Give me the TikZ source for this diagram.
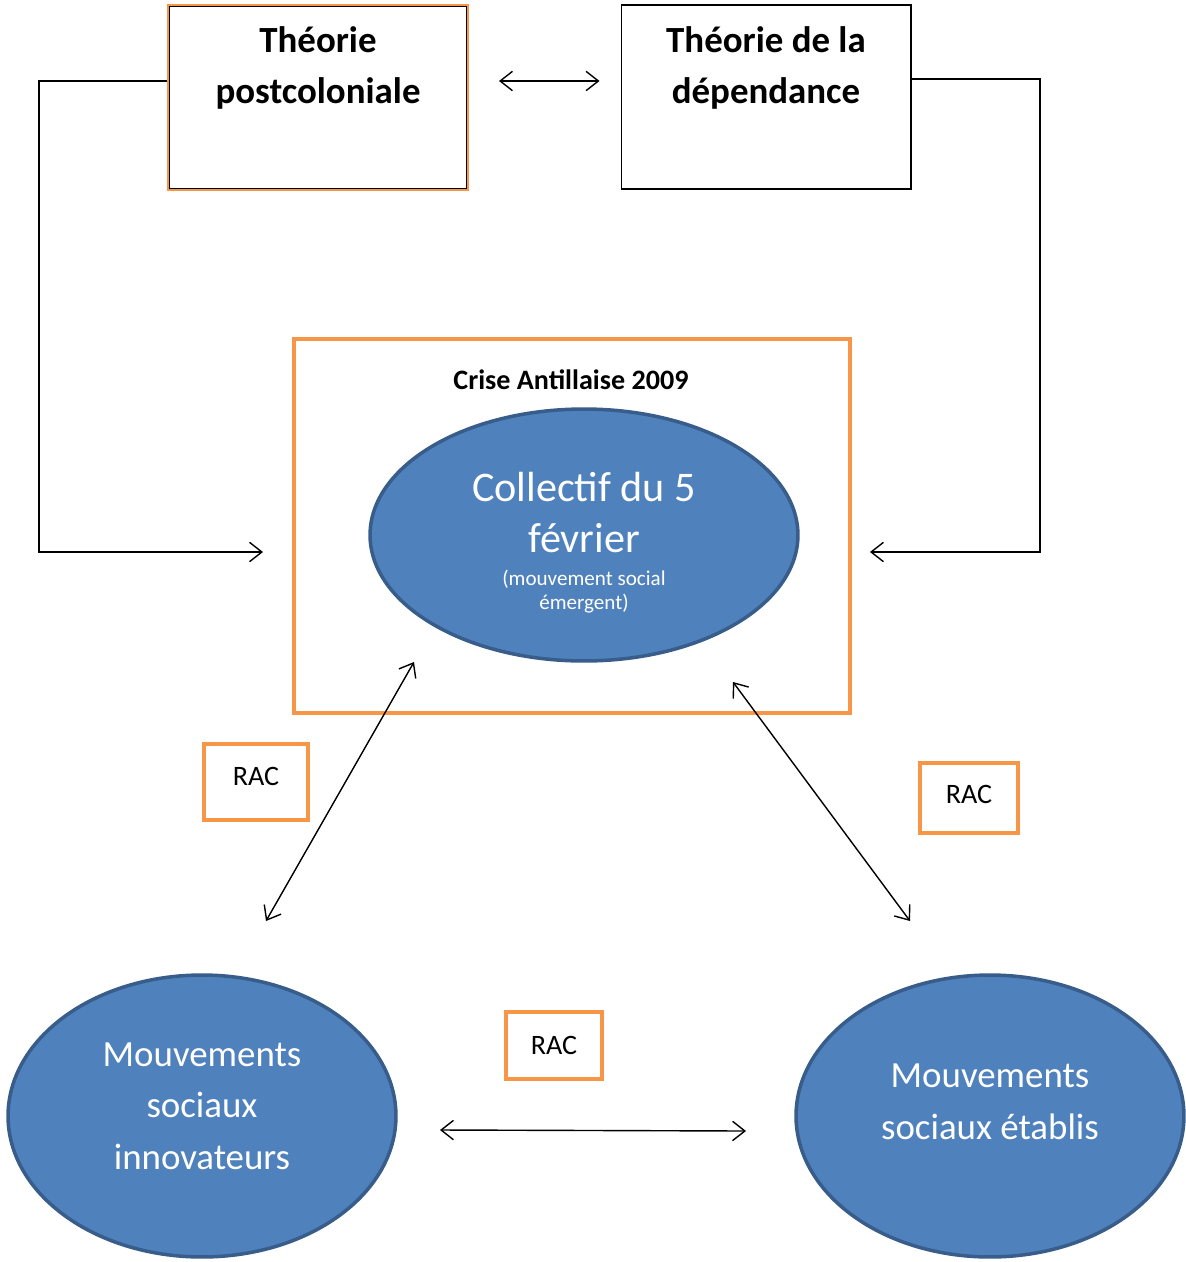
\documentclass[tikz,border=0pt]{standalone}
\usepackage{fontspec}
\setmainfont{Carlito}
\usetikzlibrary{arrows.meta,shapes.geometric}
\definecolor{accent}{HTML}{F79646}
\definecolor{blfill}{HTML}{4F81BD}
\definecolor{bldraw}{HTML}{385D8A}
\tikzset{
  theory/.style={draw, rectangle, line width=0.6pt},
  title/.style={align=center, font=\fontsize{21}{29}\selectfont\bfseries},
  movement/.style={ellipse, draw=bldraw, fill=blfill, line width=2pt, text=white, align=center},
  racbox/.style={draw=accent, line width=2pt, font=\fontsize{16}{19}\selectfont},
  conn/.style={line width=0.8pt, -{Straight Barb[length=7pt,width=11pt]}},
  dbl/.style={line width=0.8pt, {Straight Barb[length=7pt,width=11pt]}-{Straight Barb[length=7pt,width=11pt]}}
}
\begin{document}
\begin{tikzpicture}[x=0.02cm,y=-0.02cm]
\useasboundingbox (0,0) rectangle (1186,1262);

% theories
\node[theory, draw=accent, line width=1.2pt, minimum width=6cm, minimum height=3.7cm] (postco) at (318,97.5) {};
\draw[line width=0.6pt] ([xshift=1.2pt,yshift=-1.2pt]postco.north west) rectangle ([xshift=-1.2pt,yshift=1.2pt]postco.south east);
\node[title] (postco-t) at (318,68) {Théorie\\postcoloniale};
\node[theory, minimum width=5.8cm, minimum height=3.68cm] (dep) at (766,97) {};
\node[title] (dep-t) at (766,68) {Théorie de la\\dépendance};

% crise
\node[draw=accent, line width=2pt, minimum width=11.12cm, minimum height=7.48cm] (crise) at (572,526) {};
\node[font=\fontsize{16}{19}\selectfont\bfseries] (crise-t) at (571,380) {Crise Antillaise 2009};
\node[movement, minimum width=8.56cm, minimum height=5.04cm, font=\fontsize{24}{29}\selectfont] (coll) at (584,535)
  {\rule{0pt}{25.5pt}Collectif du 5\\février\\[-10.5pt]{\fontsize{12}{14}\selectfont(mouvement social}\\[-15pt]{\fontsize{12}{14}\selectfont émergent)}};

% mouvements
\node[movement, minimum width=7.76cm, minimum height=5.64cm, font=\fontsize{21}{29.5}\selectfont] (innov) at (202,1116) {Mouvements\\sociaux\\innovateurs\rule[-11.4pt]{0pt}{11.4pt}};
\node[movement, minimum width=7.76cm, minimum height=5.64cm, font=\fontsize{21}{29.5}\selectfont] (estab) at (990,1116) {Mouvements\\sociaux établis\rule[-16pt]{0pt}{16pt}};

\node[racbox, minimum width=2.08cm, minimum height=1.52cm, text depth=6.8pt] (rac1) at (256,782) {RAC};
\node[racbox, minimum width=1.96cm, minimum height=1.4cm, text depth=4.6pt] (rac2) at (969,798) {RAC};
\node[racbox, minimum width=1.92cm, minimum height=1.34cm] (rac3) at (554,1045.5) {RAC};

% connectors
\coordinate (lcorner) at (39,81);
\coordinate (rcorner) at (1040,79);
\coordinate (lt) at (263,552);
\coordinate (rt) at (870,552);
\draw[conn] (postco.west |- lcorner) -- (lcorner) |- (lt);
\draw[conn] (dep.east |- rcorner) -- (rcorner) |- (rt);
\draw[dbl, shorten <=0.6cm, shorten >=0.42cm] (postco.east |- lcorner) -- (dep.west |- lcorner);

\coordinate (a1) at (414,662);
\coordinate (a2) at (266,921);
\coordinate (b1) at (733,682);
\coordinate (b2) at (910,921);
\coordinate (c1) at (440,1130);
\coordinate (c2) at (746,1131);
\draw[dbl] (a1) -- (a2);
\draw[dbl] (b1) -- (b2);
\draw[dbl] (c1) -- (c2);
\end{tikzpicture}
\end{document}
